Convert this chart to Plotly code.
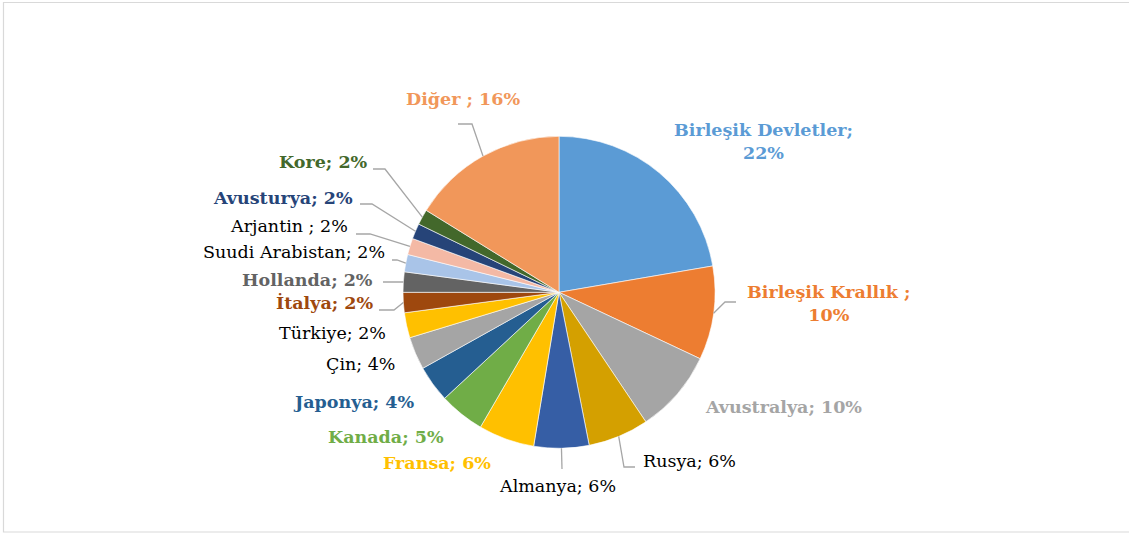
import math
import plotly.graph_objects as go

# ---- data ----
countries = ["Birleşik Devletler", "Birleşik Krallık", "Avustralya", "Rusya", "Almanya",
             "Fransa", "Kanada", "Japonya", "Çin", "Türkiye", "İtalya", "Hollanda",
             "Suudi Arabistan", "Arjantin", "Avusturya", "Kore", "Diğer"]
# slice shares
shares = [22.3, 9.7, 8.6, 6.3, 5.7, 5.8, 4.7, 3.8, 3.4, 2.6, 2.1, 2.1, 1.8, 1.7, 1.6, 1.6, 16.2]
# percentages printed in the labels
pct_labels = [22, 10, 10, 6, 6, 6, 5, 4, 4, 2, 2, 2, 2, 2, 2, 2, 16]
label_names = ["Birleşik Devletler;", "Birleşik Krallık ;", "Avustralya;", "Rusya;", "Almanya;",
               "Fransa;", "Kanada;", "Japonya;", "Çin;", "Türkiye;", "İtalya;", "Hollanda;",
               "Suudi Arabistan;", "Arjantin ;", "Avusturya;", "Kore;", "Diğer ;"]

# ---- styles ----
slice_colors = ["#5B9BD5", "#ED7D31", "#A5A5A5", "#D4A000", "#365EA5", "#FFC000", "#70AD47",
                "#255E91", "#A5A5A5", "#FFC000", "#9E480E", "#636363", "#A9C4E8", "#F4B9A5",
                "#264478", "#43682B", "#F1975A"]
label_colors = ["#5B9BD5", "#ED7D31", "#A5A5A5", "#000000", "#000000", "#FFC000", "#70AD47",
                "#255E91", "#000000", "#000000", "#9E480E", "#636363", "#000000", "#000000",
                "#264478", "#43682B", "#F1975A"]
label_bold = [True, True, True, False, False, True, True, True, False, False, True, True,
              False, False, True, True, True]
label_break = [True, True, False, False, False, False, False, False, False, False, False,
               False, False, False, False, False, False]
# label placement in pixels: (x, y, xanchor)
label_pos = [(763, 141, "center"), (829, 303, "center"), (703, 407, "left"), (641, 461, "left"),
             (557, 486, "center"), (493, 463, "right"), (446, 437, "right"), (416, 402, "right"),
             (397, 364, "right"), (388, 333, "right"), (375, 303, "right"), (375, 280, "right"),
             (387, 252, "right"), (350, 226, "right"), (355, 198, "right"), (370, 162, "right"),
             (463, 99, "center")]
# leader line points (label end, elbow) in pixels; None = no leader
leaders = [None, [(736, 302), (725, 302)], None, [(635, 467), (624, 467)], [(562, 469)],
           None, None, None, None, None, [(379, 310), (394, 310)], [(383, 282), (398, 282)],
           [(392, 260), (397, 260)], [(356, 234), (370, 234)], [(360, 204), (372, 204)],
           [(373, 169), (385, 169)], [(458, 124), (472, 124)]]

W, H = 1129, 534
CX, CY, R = 559, 292.3, 156
FONT = "DejaVu Serif"


def px(x):
    return x / W


def py(y):
    return 1 - y / H


fig = go.Figure(go.Pie(
    labels=countries, values=shares, sort=False, direction="clockwise", rotation=0,
    marker=dict(colors=slice_colors, line=dict(color="white", width=0.6)),
    textinfo="none", hoverinfo="label+percent", showlegend=False,
    domain=dict(x=[px(CX - R), px(CX + R)], y=[py(CY + R), py(CY - R)]),
))

total = sum(shares)
cum = 0
annotations = []
shapes = []
for i, name in enumerate(countries):
    mid = (cum + shares[i] / 2) / total
    cum += shares[i]
    th = 2 * math.pi * mid
    ex, ey = CX + R * math.sin(th), CY - R * math.cos(th)
    sep = "<br>" if label_break[i] else " "
    txt = f"{label_names[i]}{sep}{pct_labels[i]}%"
    if label_bold[i]:
        txt = f"<b>{txt}</b>"
    lx, ly, anc = label_pos[i]
    annotations.append(dict(x=px(lx), y=py(ly), xref="paper", yref="paper", text=txt,
                            showarrow=False, xanchor=anc, yanchor="middle", align="center",
                            font=dict(family=FONT, size=17.5, color=label_colors[i])))
    if leaders[i]:
        pts = leaders[i] + [(ex, ey)]
        path = "M " + " L ".join(f"{px(a):.5f},{py(b):.5f}" for a, b in pts)
        shapes.append(dict(type="path", xref="paper", yref="paper", path=path,
                           line=dict(color="#A6A6A6", width=1.3)))

shapes.append(dict(type="rect", xref="paper", yref="paper", x0=px(3.5), x1=px(1135),
                   y0=py(532), y1=py(2.5), line=dict(color="#D9D9D9", width=1.2)))

fig.update_layout(width=W, height=H, margin=dict(l=0, r=0, t=0, b=0),
                  paper_bgcolor="white", plot_bgcolor="white",
                  annotations=annotations, shapes=shapes)
fig.write_html("out.html", config={"displayModeBar": False},
               post_script="document.body.style.margin='0px';document.body.style.overflow='hidden';")
